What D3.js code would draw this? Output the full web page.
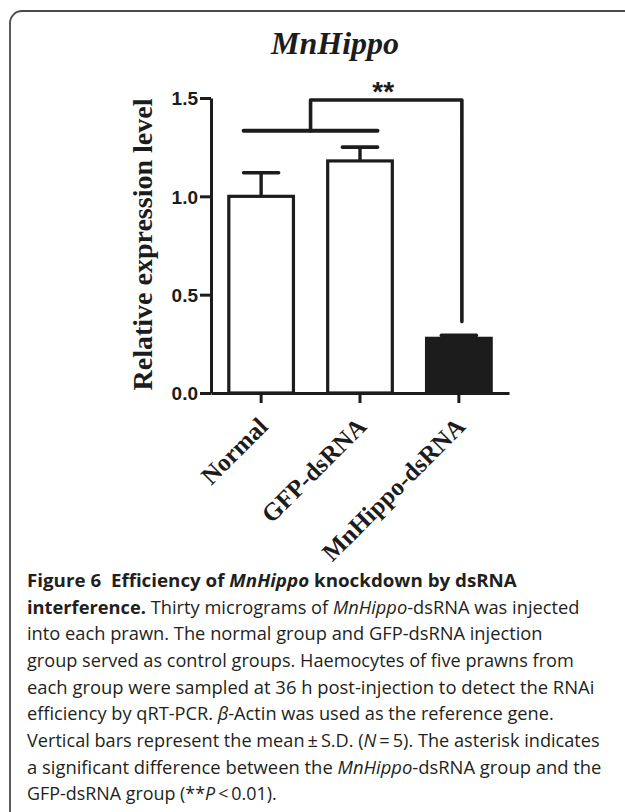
<!DOCTYPE html>
<html><head><meta charset="utf-8">
<script src="https://cdn.jsdelivr.net/npm/d3@7"></script>
<style>html,body{margin:0;padding:0;background:#fff;} svg{display:block}</style>
</head><body>
<svg id="c" width="625" height="812"></svg>
<script>
// ---------- data ----------
const categories = ["Normal", "GFP-dsRNA", "MnHippo-dsRNA"];
const meanValues = [1.00, 1.18, 0.278];
const sdValues = [0.12, 0.07, 0.015];
const yTickValues = [0.0, 0.5, 1.0, 1.5];
const titleText = "MnHippo";
const yAxisLabel = "Relative expression level";
// significance bracket levels (in data units): control bar, upper bar, drop end
const bracketLevels = [1.333, 1.49, 0.363];
const sigLabel = "**";
const captionLines = [
  [["Figure 6  Efficiency of ", "b"], ["MnHippo", "bi"], [" knockdown by dsRNA", "b"]],
  [["interference.", "b"], [" Thirty micrograms of ", ""], ["MnHippo", "i"], ["-dsRNA was injected", ""]],
  [["into each prawn. The normal group and GFP-dsRNA injection", ""]],
  [["group served as control groups. Haemocytes of five prawns from", ""]],
  [["each group were sampled at 36 h post-injection to detect the RNAi", ""]],
  [["efficiency by qRT-PCR. ", ""], ["β", "i"], ["-Actin was used as the reference gene.", ""]],
  [["Vertical bars represent the mean\u2009±\u2009S.D. (", ""], ["N", "i"], ["\u2009=\u20095). The asterisk indicates", ""]],
  [["a significant difference between the ", ""], ["MnHippo", "i"], ["-dsRNA group and the", ""]],
  [["GFP-dsRNA group (**", ""], ["P", "i"], ["\u2009<\u20090.01).", ""]]
];

// ---------- layout / style ----------
const barFills = ["#ffffff", "#ffffff", "#1c1c1c"];
const ink = "#1c1c1c";
const captionWidths = [490, 553, 516, 547, 568, 527, 573, 575, 250];
const plot = {left: 211, right: 509, top: 98, bottom: 393};

const svg = d3.select("#c");

// frame
svg.append("path")
  .attr("d", "M10,830 V23 A12,12 0 0 1 22,11 H640")
  .attr("fill", "none").attr("stroke", "#4a4a4a").attr("stroke-width", 1.8);

// scales
const x = d3.scaleBand().domain(categories).range([plot.left, plot.right])
  .paddingInner(0.316).paddingOuter(0.165);
const y = d3.scaleLinear().domain([0, 1.5]).range([plot.bottom, plot.top]);
const bw = x.bandwidth();
const cx = c => x(c) + bw / 2;

// title
svg.append("text").attr("x", 335).attr("y", 54).attr("text-anchor", "middle")
  .attr("font-family", "Liberation Serif, Times New Roman, serif")
  .attr("font-weight", "bold").attr("font-style", "italic").attr("font-size", 32)
  .attr("fill", ink).text(titleText);

// y label
svg.append("text")
  .attr("transform", `translate(152,${(plot.top + plot.bottom) / 2 - 1}) rotate(-90)`)
  .attr("text-anchor", "middle")
  .attr("font-family", "Liberation Serif, Times New Roman, serif")
  .attr("font-weight", "bold").attr("font-size", 28).attr("fill", ink)
  .text(yAxisLabel);

// bars
const data = categories.map((c, i) => ({c, m: meanValues[i], sd: sdValues[i], f: barFills[i]}));
const g = svg.append("g");
g.selectAll("rect.bar").data(data).join("rect").attr("class", "bar")
  .attr("x", d => x(d.c) + 1.5).attr("width", bw - 3)
  .attr("y", d => y(d.m)).attr("height", d => y(0) - y(d.m))
  .attr("fill", d => d.f).attr("stroke", ink).attr("stroke-width", 3.2);

// error bars
const capW = 35;
g.selectAll("line.err").data(data).join("line").attr("class", "err")
  .attr("x1", d => cx(d.c)).attr("x2", d => cx(d.c))
  .attr("y1", d => y(d.m)).attr("y2", d => y(d.m + d.sd))
  .attr("stroke", ink).attr("stroke-width", 3.4);
g.selectAll("line.cap").data(data).join("line").attr("class", "cap")
  .attr("x1", d => cx(d.c) - capW / 2).attr("x2", d => cx(d.c) + capW / 2)
  .attr("y1", d => y(d.m + d.sd)).attr("y2", d => y(d.m + d.sd))
  .attr("stroke", ink).attr("stroke-width", 3.6).attr("stroke-linecap", "round");

// axes
const yAxis = d3.axisLeft(y).tickValues(yTickValues).tickFormat(d3.format(".1f"))
  .tickSize(11).tickSizeOuter(0).tickPadding(2);
const ya = svg.append("g").attr("transform", `translate(${plot.left},0)`).call(yAxis);
const xAxis = d3.axisBottom(x).tickSize(10).tickSizeOuter(0).tickPadding(0);
const xa = svg.append("g").attr("transform", `translate(0,${plot.bottom})`).call(xAxis);
[ya, xa].forEach(a => {
  a.select(".domain").attr("stroke", ink).attr("stroke-width", 3);
  a.selectAll(".tick line").attr("stroke", ink).attr("stroke-width", 3);
});
ya.selectAll(".tick text").attr("font-family", "Liberation Sans, Arial, sans-serif")
  .attr("font-weight", "bold").attr("font-size", 19).attr("fill", ink).attr("dy", "0.36em");
xa.selectAll(".tick text")
  .attr("font-family", "Liberation Serif, Times New Roman, serif")
  .attr("font-weight", "bold").attr("font-size", 25).attr("fill", ink)
  .attr("text-anchor", "end").attr("y", null).attr("dy", null)
  .attr("transform", "translate(8,35) rotate(-45)");

// significance bracket
const [lvLow, lvHigh, lvDrop] = bracketLevels;
const lowL = cx(categories[0]) - capW / 2, lowR = cx(categories[1]) + capW / 2;
const mid = (cx(categories[0]) + cx(categories[1])) / 2;
const dropX = cx(categories[2]) + 3;
svg.append("line").attr("x1", lowL).attr("x2", lowR).attr("y1", y(lvLow)).attr("y2", y(lvLow))
  .attr("stroke", ink).attr("stroke-width", 4).attr("stroke-linecap", "round");
svg.append("path")
  .attr("d", `M${mid},${y(lvLow)} V${y(lvHigh)} H${dropX} V${y(lvDrop)}`)
  .attr("fill", "none").attr("stroke", ink).attr("stroke-width", 3.6)
  .attr("stroke-linecap", "round").attr("stroke-linejoin", "round");
svg.append("text").attr("x", (mid + dropX) / 2 - 3).attr("y", 101).attr("text-anchor", "middle")
  .attr("font-family", "Liberation Sans, Arial, sans-serif").attr("font-weight", "bold")
  .attr("font-size", 28).attr("fill", ink).text(sigLabel);

// caption: each line horizontally scaled to the reference line width
const cap = svg.append("g").attr("font-family", "Open Sans, Lato, sans-serif")
  .attr("font-size", 18.5).attr("fill", "#231f20");
captionLines.forEach((segs, i) => {
  const t = cap.append("text").attr("x", 0).attr("y", 0)
    .style("white-space", "pre");
  segs.forEach(([s, st]) => {
    t.append("tspan").text(s)
      .attr("font-weight", st.includes("b") ? "bold" : null)
      .attr("font-style", st.includes("i") ? "italic" : null);
  });
  const w = t.node().getComputedTextLength();
  const sx = captionWidths[i] / w;
  t.attr("transform", `translate(27,${587 + i * 26.67}) scale(${sx},1)`);
});
</script>
</body></html>
